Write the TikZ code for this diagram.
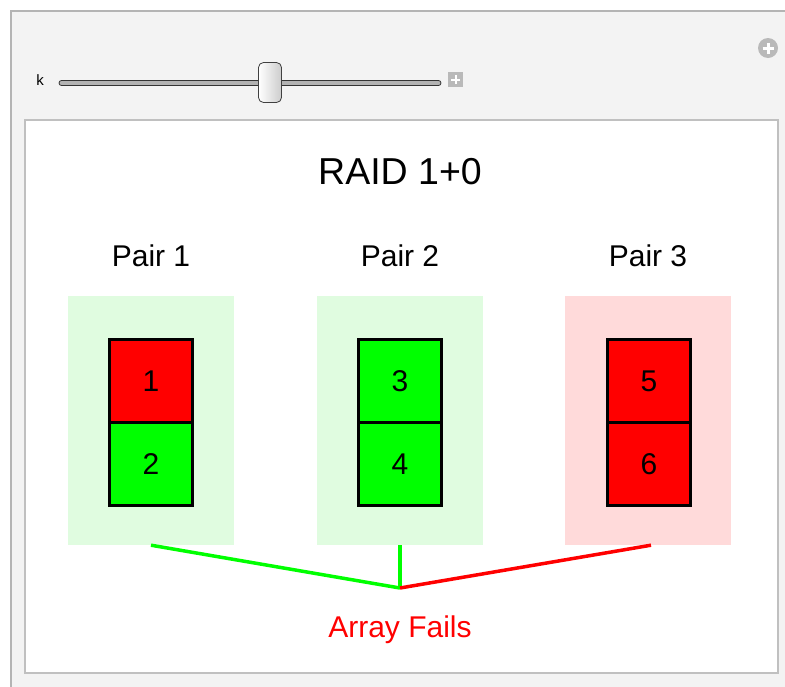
\documentclass[tikz,border=0pt]{standalone}
\usepackage{xcolor}
\usepackage{tikz}
\usepackage{fontspec}
\setmainfont{Liberation Sans}
\usetikzlibrary{shapes.geometric, arrows, positioning, calc}
\definecolor{pairok}{RGB}{224, 252, 224}
\definecolor{pairfail}{RGB}{255, 218, 218}
\definecolor{framebg}{RGB}{243, 243, 243}
\definecolor{frameedge}{RGB}{180, 180, 180}
\definecolor{paneledge}{RGB}{192, 192, 192}

\begin{document}
\begin{tikzpicture}[
    x=1pt, y=-1pt,
    panel/.style={rectangle, draw=paneledge, fill=white, line width=1.5pt, minimum width=753pt, minimum height=553pt},
    pairbox/.style={rectangle, minimum width=166pt, minimum height=249pt},
    disk/.style={rectangle, draw=black, line width=3pt, minimum width=83pt, minimum height=83pt, font=\fontsize{30}{36}\selectfont},
    label/.style={font=\fontsize{30}{36}\selectfont},
    okline/.style={line width=3.5pt, draw={rgb,255:red,0;green,255;blue,0}},
    failline/.style={line width=3.5pt, draw=red},
    ctrlbtn/.style={fill=gray!55, inner sep=0pt}
]

    \useasboundingbox (0,0) rectangle (785,686);
    \clip (0,0) rectangle (785,686);

    % manipulate frame and slider
    \draw[frameedge, fill=framebg, line width=2pt] (11,11) rectangle (800,700);
    \node[ctrlbtn, circle, minimum size=20pt] (addbtn) at (768,48) {};
    \draw[white, line width=3pt] ([xshift=-5.5pt]addbtn.center) -- ([xshift=5.5pt]addbtn.center);
    \draw[white, line width=3pt] ([yshift=-5.5pt]addbtn.center) -- ([yshift=5.5pt]addbtn.center);

    \node[font=\fontsize{15}{18}\selectfont] (k) at (40,80) {k};
    \node[rectangle, rounded corners=2.5pt, draw=black!80, fill=gray!60, line width=0.8pt, minimum width=382pt, minimum height=5pt, inner sep=0pt] (track) at (250,83) {};
    \node[rectangle, rounded corners=5pt, draw=black!75, left color=white, right color=gray!40, line width=0.8pt, minimum width=23pt, minimum height=40pt, inner sep=0pt] (thumb) at (270,82.5) {};
    \node[ctrlbtn, rectangle, minimum size=15pt] (stepbtn) at (455.5,79.5) {};
    \draw[white, line width=2pt] ([xshift=-4.5pt]stepbtn.center) -- ([xshift=4.5pt]stepbtn.center);
    \draw[white, line width=2pt] ([yshift=-4.5pt]stepbtn.center) -- ([yshift=4.5pt]stepbtn.center);

    % plot area
    \node[panel] (plot) at (401.5,396.5) {};
    \node[font=\fontsize{37.5}{44}\selectfont] (title) at (400,172) {RAID 1+0};

    \node[pairbox, fill=pairok] (pair1) at (151,420.5) {};
    \node[pairbox, fill=pairok] (pair2) at (400,420.5) {};
    \node[pairbox, fill=pairfail] (pair3) at (648,420.5) {};

    \node[label] (lbl1) at (151,256) {Pair 1};
    \node[label] (lbl2) at (400,256) {Pair 2};
    \node[label] (lbl3) at (648,256) {Pair 3};

    \node[disk, fill=red] (d1) at (151,381) {1};
    \node[disk, fill={rgb,255:red,0;green,255;blue,0}] (d2) at (151,464) {2};
    \node[disk, fill={rgb,255:red,0;green,255;blue,0}] (d3) at (400,381) {3};
    \node[disk, fill={rgb,255:red,0;green,255;blue,0}] (d4) at (400,464) {4};
    \node[disk, fill=red] (d5) at (649,381) {5};
    \node[disk, fill=red] (d6) at (649,464) {6};

    \coordinate (join) at (400,588);
    \draw[okline] (pair1.south) -- (join);
    \draw[okline] (pair2.south) -- (join);
    \draw[failline] ([xshift=3pt]pair3.south) -- (join);

    \node[label, text=red] (status) at (400,630) {Array Fails};

\end{tikzpicture}
\end{document}
